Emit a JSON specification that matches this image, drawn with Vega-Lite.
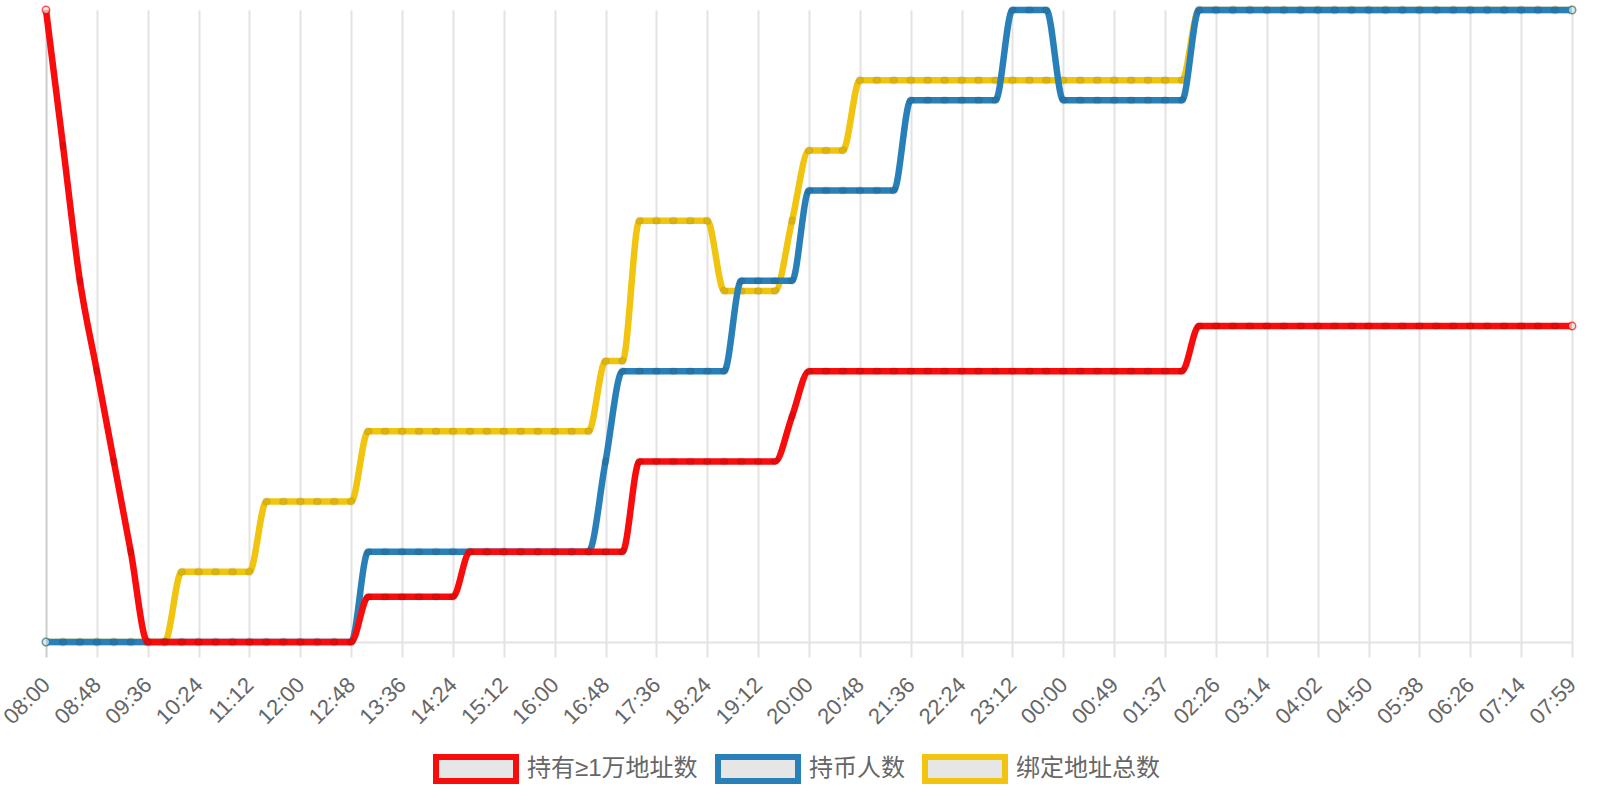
{
  "$schema": "https://vega.github.io/schema/vega-lite/v6.json",
  "width": 1526,
  "height": 632,
  "autosize": {"type": "none"},
  "padding": {"left": 46, "top": 10, "right": 28, "bottom": 158},
  "background": "white",
  "data": {
    "values": [
      {"t": "08:00", "holders10k": 14, "holders": 0, "bound": 0},
      {"t": "08:16", "holders10k": 11, "holders": 0, "bound": 0},
      {"t": "08:32", "holders10k": 8, "holders": 0, "bound": 0},
      {"t": "08:48", "holders10k": 6, "holders": 0, "bound": 0},
      {"t": "09:04", "holders10k": 4, "holders": 0, "bound": 0},
      {"t": "09:20", "holders10k": 2, "holders": 0, "bound": 0},
      {"t": "09:36", "holders10k": 0, "holders": 0, "bound": 0},
      {"t": "09:52", "holders10k": 0, "holders": 0, "bound": 0},
      {"t": "10:08", "holders10k": 0, "holders": 0, "bound": 1},
      {"t": "10:24", "holders10k": 0, "holders": 0, "bound": 1},
      {"t": "10:40", "holders10k": 0, "holders": 0, "bound": 1},
      {"t": "10:56", "holders10k": 0, "holders": 0, "bound": 1},
      {"t": "11:12", "holders10k": 0, "holders": 0, "bound": 1},
      {"t": "11:28", "holders10k": 0, "holders": 0, "bound": 2},
      {"t": "11:44", "holders10k": 0, "holders": 0, "bound": 2},
      {"t": "12:00", "holders10k": 0, "holders": 0, "bound": 2},
      {"t": "12:16", "holders10k": 0, "holders": 0, "bound": 2},
      {"t": "12:32", "holders10k": 0, "holders": 0, "bound": 2},
      {"t": "12:48", "holders10k": 0, "holders": 0, "bound": 2},
      {"t": "13:04", "holders10k": 1, "holders": 1, "bound": 3},
      {"t": "13:20", "holders10k": 1, "holders": 1, "bound": 3},
      {"t": "13:36", "holders10k": 1, "holders": 1, "bound": 3},
      {"t": "13:52", "holders10k": 1, "holders": 1, "bound": 3},
      {"t": "14:08", "holders10k": 1, "holders": 1, "bound": 3},
      {"t": "14:24", "holders10k": 1, "holders": 1, "bound": 3},
      {"t": "14:40", "holders10k": 2, "holders": 1, "bound": 3},
      {"t": "14:56", "holders10k": 2, "holders": 1, "bound": 3},
      {"t": "15:12", "holders10k": 2, "holders": 1, "bound": 3},
      {"t": "15:28", "holders10k": 2, "holders": 1, "bound": 3},
      {"t": "15:44", "holders10k": 2, "holders": 1, "bound": 3},
      {"t": "16:00", "holders10k": 2, "holders": 1, "bound": 3},
      {"t": "16:16", "holders10k": 2, "holders": 1, "bound": 3},
      {"t": "16:32", "holders10k": 2, "holders": 1, "bound": 3},
      {"t": "16:48", "holders10k": 2, "holders": 2, "bound": 4},
      {"t": "17:04", "holders10k": 2, "holders": 3, "bound": 4},
      {"t": "17:20", "holders10k": 4, "holders": 3, "bound": 6},
      {"t": "17:36", "holders10k": 4, "holders": 3, "bound": 6},
      {"t": "17:52", "holders10k": 4, "holders": 3, "bound": 6},
      {"t": "18:08", "holders10k": 4, "holders": 3, "bound": 6},
      {"t": "18:24", "holders10k": 4, "holders": 3, "bound": 6},
      {"t": "18:40", "holders10k": 4, "holders": 3, "bound": 5},
      {"t": "18:56", "holders10k": 4, "holders": 4, "bound": 5},
      {"t": "19:12", "holders10k": 4, "holders": 4, "bound": 5},
      {"t": "19:28", "holders10k": 4, "holders": 4, "bound": 5},
      {"t": "19:44", "holders10k": 5, "holders": 4, "bound": 6},
      {"t": "20:00", "holders10k": 6, "holders": 5, "bound": 7},
      {"t": "20:16", "holders10k": 6, "holders": 5, "bound": 7},
      {"t": "20:32", "holders10k": 6, "holders": 5, "bound": 7},
      {"t": "20:48", "holders10k": 6, "holders": 5, "bound": 8},
      {"t": "21:04", "holders10k": 6, "holders": 5, "bound": 8},
      {"t": "21:20", "holders10k": 6, "holders": 5, "bound": 8},
      {"t": "21:36", "holders10k": 6, "holders": 6, "bound": 8},
      {"t": "21:52", "holders10k": 6, "holders": 6, "bound": 8},
      {"t": "22:08", "holders10k": 6, "holders": 6, "bound": 8},
      {"t": "22:24", "holders10k": 6, "holders": 6, "bound": 8},
      {"t": "22:40", "holders10k": 6, "holders": 6, "bound": 8},
      {"t": "22:56", "holders10k": 6, "holders": 6, "bound": 8},
      {"t": "23:12", "holders10k": 6, "holders": 7, "bound": 8},
      {"t": "23:28", "holders10k": 6, "holders": 7, "bound": 8},
      {"t": "23:44", "holders10k": 6, "holders": 7, "bound": 8},
      {"t": "00:00", "holders10k": 6, "holders": 6, "bound": 8},
      {"t": "00:16", "holders10k": 6, "holders": 6, "bound": 8},
      {"t": "00:32", "holders10k": 6, "holders": 6, "bound": 8},
      {"t": "00:49", "holders10k": 6, "holders": 6, "bound": 8},
      {"t": "01:05", "holders10k": 6, "holders": 6, "bound": 8},
      {"t": "01:21", "holders10k": 6, "holders": 6, "bound": 8},
      {"t": "01:37", "holders10k": 6, "holders": 6, "bound": 8},
      {"t": "01:53", "holders10k": 6, "holders": 6, "bound": 8},
      {"t": "02:10", "holders10k": 7, "holders": 7, "bound": 9},
      {"t": "02:26", "holders10k": 7, "holders": 7, "bound": 9},
      {"t": "02:42", "holders10k": 7, "holders": 7, "bound": 9},
      {"t": "02:58", "holders10k": 7, "holders": 7, "bound": 9},
      {"t": "03:14", "holders10k": 7, "holders": 7, "bound": 9},
      {"t": "03:30", "holders10k": 7, "holders": 7, "bound": 9},
      {"t": "03:46", "holders10k": 7, "holders": 7, "bound": 9},
      {"t": "04:02", "holders10k": 7, "holders": 7, "bound": 9},
      {"t": "04:18", "holders10k": 7, "holders": 7, "bound": 9},
      {"t": "04:34", "holders10k": 7, "holders": 7, "bound": 9},
      {"t": "04:50", "holders10k": 7, "holders": 7, "bound": 9},
      {"t": "05:06", "holders10k": 7, "holders": 7, "bound": 9},
      {"t": "05:22", "holders10k": 7, "holders": 7, "bound": 9},
      {"t": "05:38", "holders10k": 7, "holders": 7, "bound": 9},
      {"t": "05:54", "holders10k": 7, "holders": 7, "bound": 9},
      {"t": "06:10", "holders10k": 7, "holders": 7, "bound": 9},
      {"t": "06:26", "holders10k": 7, "holders": 7, "bound": 9},
      {"t": "06:42", "holders10k": 7, "holders": 7, "bound": 9},
      {"t": "06:58", "holders10k": 7, "holders": 7, "bound": 9},
      {"t": "07:14", "holders10k": 7, "holders": 7, "bound": 9},
      {"t": "07:29", "holders10k": 7, "holders": 7, "bound": 9},
      {"t": "07:44", "holders10k": 7, "holders": 7, "bound": 9},
      {"t": "07:59", "holders10k": 7, "holders": 7, "bound": 9}
    ]
  },
  "encoding": {
    "x": {
      "field": "t",
      "type": "ordinal",
      "sort": null,
      "title": null,
      "scale": {"type": "point", "padding": 0},
      "axis": {
        "values": ["08:00", "08:48", "09:36", "10:24", "11:12", "12:00", "12:48", "13:36", "14:24", "15:12", "16:00", "16:48", "17:36", "18:24", "19:12", "20:00", "20:48", "21:36", "22:24", "23:12", "00:00", "00:49", "01:37", "02:26", "03:14", "04:02", "04:50", "05:38", "06:26", "07:14", "07:59"],
        "labelAngle": -45,
        "labelAlign": "right",
        "labelBaseline": "middle",
        "labelFontSize": 22,
        "labelFont": "Liberation Sans",
        "labelColor": "#666666",
        "labelPadding": 24,
        "labelOverlap": false,
        "tickSize": 15,
        "tickWidth": 2,
        "tickColor": {"condition": {"test": "datum.value === '08:00'", "value": "#cccccc"}, "value": "#e3e3e3"},
        "grid": true,
        "gridWidth": 2,
        "gridColor": {"condition": {"test": "datum.value === '08:00'", "value": "#cccccc"}, "value": "#e3e3e3"},
        "domainColor": "#e3e3e3",
        "domainWidth": 2
      }
    },
    "color": {
      "datum": "持有≥1万地址数",
      "type": "nominal",
      "scale": {
        "domain": ["持有≥1万地址数", "持币人数", "绑定地址总数"],
        "range": ["#f80c0c", "#2980b9", "#f1c40f"]
      },
      "legend": {
        "title": null,
        "orient": "none",
        "direction": "horizontal",
        "legendX": 387,
        "legendY": 716,
        "symbolType": "M-1,-0.3H1V0.3H-1Z",
        "symbolSize": 6400,
        "symbolStrokeWidth": 6,
        "symbolFillColor": "#e6e6e6",
        "labelFontSize": 24,
        "labelFont": "Liberation Sans, Noto Sans CJK SC",
        "labelColor": "#666666",
        "labelLimit": 0,
        "labelOffset": 8,
        "columnPadding": 8,
        "encode": {"symbols": {"update": {"fill": {"value": "#e6e6e6"}, "strokeWidth": {"value": 6}}}}
      }
    }
  },
  "layer": [
    {
      "encoding": {
        "y": {"field": "bound", "type": "quantitative", "scale": {"domain": [0, 9], "nice": false}, "axis": null},
        "color": {"datum": "绑定地址总数", "type": "nominal"}
      },
      "layer": [
        {"mark": {"type": "line", "interpolate": "monotone", "strokeWidth": 6.5}},
        {
          "mark": {"type": "point", "size": 55, "strokeWidth": 1.5, "filled": false},
          "encoding": {
            "color": {"value": "#f1c40f"},
            "fill": {"condition": {"test": "datum.t === '08:00' || datum.t === '07:59'", "value": "#e6e6e6"}, "value": "rgba(0,0,0,0.12)"},
            "stroke": {"condition": {"test": "datum.t === '08:00' || datum.t === '07:59'", "value": "#f1c40f"}, "value": "rgba(0,0,0,0.08)"}
          }
        }
      ]
    },
    {
      "encoding": {
        "y": {"field": "holders", "type": "quantitative", "scale": {"domain": [0, 7], "nice": false}, "axis": null},
        "color": {"datum": "持币人数", "type": "nominal"}
      },
      "layer": [
        {"mark": {"type": "line", "interpolate": "monotone", "strokeWidth": 6.5}},
        {
          "mark": {"type": "point", "size": 55, "strokeWidth": 1.5, "filled": false},
          "encoding": {
            "color": {"value": "#2980b9"},
            "fill": {"condition": {"test": "datum.t === '08:00' || datum.t === '07:59'", "value": "#e6e6e6"}, "value": "rgba(0,0,0,0.12)"},
            "stroke": {"condition": {"test": "datum.t === '08:00' || datum.t === '07:59'", "value": "#2980b9"}, "value": "rgba(0,0,0,0.08)"}
          }
        }
      ]
    },
    {
      "encoding": {
        "y": {"field": "holders10k", "type": "quantitative", "scale": {"domain": [0, 14], "nice": false}, "axis": null},
        "color": {"datum": "持有≥1万地址数", "type": "nominal"}
      },
      "layer": [
        {"mark": {"type": "line", "interpolate": "monotone", "strokeWidth": 6.5}},
        {
          "mark": {"type": "point", "size": 55, "strokeWidth": 1.5, "filled": false},
          "encoding": {
            "color": {"value": "#f80c0c"},
            "fill": {"condition": {"test": "datum.t === '08:00' || datum.t === '07:59'", "value": "#e6e6e6"}, "value": "rgba(0,0,0,0.12)"},
            "stroke": {"condition": {"test": "datum.t === '08:00' || datum.t === '07:59'", "value": "#f80c0c"}, "value": "rgba(0,0,0,0.08)"}
          }
        }
      ]
    }
  ],
  "resolve": {"scale": {"y": "independent"}},
  "config": {
    "view": {"stroke": null},
    "font": "Liberation Sans, Noto Sans CJK SC"
  }
}
